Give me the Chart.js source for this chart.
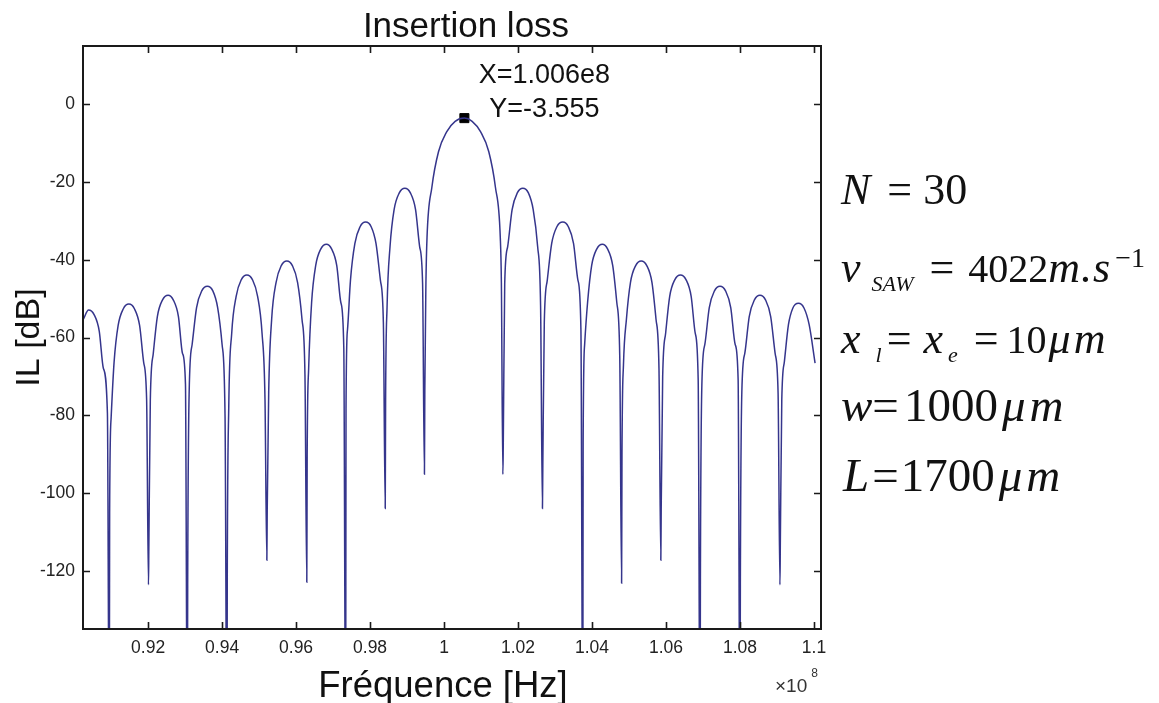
<!DOCTYPE html>
<html>
<head>
<meta charset="utf-8">
<title>Insertion loss</title>
<script src="https://cdn.jsdelivr.net/npm/chart.js@4.4.0/dist/chart.umd.min.js"></script>
<style>
  body { margin: 0; background: #fff; }
  #wrap { position: relative; width: 1159px; height: 703px; overflow: hidden; }
  #wrap canvas { position: absolute; left: 0; top: 0; }
  .eq { position: absolute; left: 841px; font-family: "Liberation Serif", "Times New Roman", serif;
        font-size: 40px; line-height: 40px; color: #111; white-space: nowrap; }
  .eq i { font-style: italic; }
  .eq sub { font-size: 22px; font-style: italic; vertical-align: -9px; line-height: 0; }
  .eq sup { font-size: 28px; vertical-align: 15px; line-height: 0; }
  .exp { position: absolute; left: 775px; top: 673px; font-family: "Liberation Sans", Arial, sans-serif;
         font-size: 19px; line-height: 19px; color: #333; white-space: nowrap; }
  .exp sup { font-size: 12px; vertical-align: 15px; line-height: 0; margin-left: 4px; }
</style>
</head>
<body>
<div id="wrap">
  <canvas id="chart" width="1159" height="703"></canvas>
  <div class="eq" style="top:168px;font-size:44px;line-height:44px"><i>N</i><span style="margin:0 11px 0 17px">=</span>30</div>
  <div class="eq" style="top:248px"><i style="font-size:44px">v</i><sub style="margin-left:11px">SAW</sub><span style="font-size:44px;margin:0 14px 0 16px">=</span>4022<i style="font-size:44px;letter-spacing:1px">m.s</i><sup style="margin-left:4px">&minus;1</sup></div>
  <div class="eq" style="top:319px"><i style="font-size:44px">x</i><sub style="margin-left:15px">l</sub><span style="font-size:44px;margin-left:5px">=</span><i style="font-size:44px;margin-left:12px">x</i><sub style="margin-left:5px">e</sub><span style="font-size:44px;margin-left:16px">=</span><span style="margin-left:8px">10</span><i style="font-size:44px;letter-spacing:3px;margin-left:2px">&mu;m</i></div>
  <div class="eq" style="top:382px;font-size:47px;line-height:47px"><i>w</i><span>=</span><span style="margin-left:5px">1000</span><i style="letter-spacing:4px;margin-left:4px">&mu;m</i></div>
  <div class="eq" style="top:452px;left:843px;font-size:47px;line-height:47px"><i>L</i><span style="margin-left:3px">=</span><span style="margin-left:2px">1700</span><i style="letter-spacing:4px;margin-left:4px">&mu;m</i></div>
  <div class="exp">&times;10<sup>8</sup></div>
</div>
<script>
// frequency in units of 1e8 Hz, one lobe per line (null points reach below the axis)
var freqHz = [
  0.9025, 0.9039, 0.9054, 0.9068, 0.9079, 0.9090,
  0.9095, 0.9096, 0.9100,
  0.9108, 0.9119, 0.9133, 0.9148, 0.9163, 0.9177, 0.9188, 0.9196,
  0.9201, 0.9202, 0.9206,
  0.9214, 0.9225, 0.9239, 0.9254, 0.9268, 0.9282, 0.9293, 0.9301,
  0.9306, 0.9307, 0.9311,
  0.9319, 0.9331, 0.9345, 0.9360, 0.9375, 0.9388, 0.9400, 0.9408,
  0.9413, 0.9414, 0.9418,
  0.9426, 0.9438, 0.9452, 0.9467, 0.9482, 0.9496, 0.9508, 0.9516,
  0.9521, 0.9522, 0.9526,
  0.9534, 0.9546, 0.9560, 0.9575, 0.9590, 0.9604, 0.9616, 0.9624,
  0.9629, 0.9630, 0.9634,
  0.9642, 0.9653, 0.9667, 0.9682, 0.9696, 0.9710, 0.9721, 0.9729,
  0.9734, 0.9735, 0.9739,
  0.9747, 0.9759, 0.9773, 0.9788, 0.9803, 0.9816, 0.9828, 0.9836,
  0.9841, 0.9842, 0.9846,
  0.9854, 0.9865, 0.9879, 0.9894, 0.9909, 0.9923, 0.9934, 0.9942,
  0.9947, 0.9948, 0.9951,
  0.9954, 0.9967, 0.9985, 1.0007, 1.0030, 1.0055, 1.0076, 1.0099, 1.0121, 1.0139, 1.0152, 1.0155,
  1.0159, 1.0160, 1.0164,
  1.0172, 1.0184, 1.0198, 1.0213, 1.0228, 1.0241, 1.0253, 1.0261,
  1.0266, 1.0267, 1.0271,
  1.0279, 1.0291, 1.0305, 1.0321, 1.0336, 1.0350, 1.0362, 1.0370,
  1.0375, 1.0376, 1.0380,
  1.0388, 1.0399, 1.0413, 1.0428, 1.0442, 1.0456, 1.0467, 1.0475,
  1.0480, 1.0481, 1.0485,
  1.0493, 1.0504, 1.0518, 1.0533, 1.0548, 1.0562, 1.0573, 1.0581,
  1.0586, 1.0587, 1.0591,
  1.0599, 1.0610, 1.0624, 1.0639, 1.0654, 1.0668, 1.0679, 1.0687,
  1.0692, 1.0693, 1.0697,
  1.0705, 1.0717, 1.0731, 1.0746, 1.0761, 1.0775, 1.0787, 1.0795,
  1.0800, 1.0801, 1.0805,
  1.0813, 1.0825, 1.0839, 1.0854, 1.0869, 1.0883, 1.0895, 1.0903,
  1.0908, 1.0909, 1.0913,
  1.0920, 1.0931, 1.0943, 1.0958, 1.0973, 1.0987, 1.1003
];
// insertion loss in dB, same order as freqHz
var ilDb = [
  -55.3, -52.9, -54.1, -58.4, -67.9, -79.5,
  -170, -105.0, -80.7,
  -66.4, -56.9, -52.6, -51.4, -52.6, -56.9, -66.4, -76.0,
  -123.6, -114.1, -76.0,
  -64.1, -54.6, -50.3, -49.1, -50.3, -54.6, -64.1, -72.0,
  -170, -123.6, -74.0,
  -61.8, -52.3, -48.0, -46.8, -48.0, -52.3, -61.8, -80.3,
  -170, -121.8, -78.0,
  -58.9, -49.4, -45.1, -43.9, -45.1, -49.4, -58.9, -76.0,
  -117.3, -104.3, -74.0,
  -55.3, -45.8, -41.5, -40.3, -41.5, -45.8, -55.3, -69.6,
  -123.0, -90.2, -68.0,
  -51.0, -41.5, -37.2, -36.0, -37.2, -41.5, -51.0, -62.7,
  -170, -78.3, -58.0,
  -45.3, -35.8, -31.5, -30.3, -31.5, -35.8, -45.3, -56.2,
  -104.0, -76.3, -52.0,
  -36.6, -27.1, -22.8, -21.6, -22.8, -27.1, -36.6, -46.1,
  -95.2, -73.7, -46.1,
  -34.2, -21.4, -12.2, -7.1, -4.4, -3.555, -4.4, -7.1, -12.2, -21.4, -34.2, -46.1,
  -95.2, -88.4, -46.1,
  -36.6, -27.1, -22.8, -21.6, -22.8, -27.1, -36.6, -52.0,
  -104.0, -92.9, -56.2,
  -45.3, -35.8, -31.5, -30.3, -31.5, -35.8, -45.3, -58.0,
  -170, -87.1, -61.9,
  -51.0, -41.5, -37.2, -36.0, -37.2, -41.5, -51.0, -65.0,
  -123.2, -90.2, -67.1,
  -55.3, -45.8, -41.5, -40.3, -41.5, -45.8, -55.3, -67.9,
  -117.3, -104.3, -70.0,
  -58.9, -49.4, -45.1, -43.9, -45.1, -49.4, -58.9, -70.9,
  -170, -121.8, -72.0,
  -61.8, -52.3, -48.0, -46.8, -48.0, -52.3, -61.8, -70.9,
  -170, -123.6, -74.0,
  -64.1, -54.6, -50.3, -49.1, -50.3, -54.6, -64.1, -74.3,
  -123.6, -113.7, -76.0,
  -66.2, -56.7, -52.4, -51.2, -52.4, -56.7, -66.6
];

var xTicks = [0.92, 0.94, 0.96, 0.98, 1.0, 1.02, 1.04, 1.06, 1.08, 1.1];
var yTicks = [0, -20, -40, -60, -80, -100, -120];

// data cursor on the main lobe
var markerX = [1.0055];
var markerY = [-3.555];
var tipLines = ["X=1.006e8", "Y=-3.555"];

var titleText = "Insertion loss";
var xLabel = "Fréquence [Hz]";
var yLabel = "IL [dB]";

var sans = '"Liberation Sans", Arial, Helvetica, sans-serif';
Chart.defaults.font.family = sans;

var points = [];
for (var i = 0; i < freqHz.length; i++) {
  points.push({x: freqHz[i], y: ilDb[i]});
}

// matlab style box with inward ticks on all four sides
var matlabBox = {
  id: "matlabBox",
  afterDatasetsDraw: function(chart) {
    var ctx = chart.ctx, a = chart.chartArea;
    var xs = chart.scales.x, ys = chart.scales.y;
    ctx.save();
    ctx.strokeStyle = "#1a1a1a";
    ctx.lineWidth = 1.6;
    ctx.beginPath();
    xTicks.forEach(function(v) {
      var px = Math.round(xs.getPixelForValue(v)) + 0.5;
      ctx.moveTo(px, a.bottom); ctx.lineTo(px, a.bottom - 7);
      ctx.moveTo(px, a.top); ctx.lineTo(px, a.top + 7);
    });
    yTicks.forEach(function(v) {
      var py = Math.round(ys.getPixelForValue(v)) + 0.5;
      ctx.moveTo(a.left, py); ctx.lineTo(a.left + 7, py);
      ctx.moveTo(a.right, py); ctx.lineTo(a.right - 7, py);
    });
    ctx.stroke();
    ctx.lineWidth = 2;
    ctx.strokeRect(a.left, a.top, a.right - a.left, a.bottom - a.top);
    ctx.restore();
  }
};

// title, x label and data cursor text
var labels = {
  id: "labels",
  afterDraw: function(chart) {
    var ctx = chart.ctx, a = chart.chartArea;
    var mid = (a.left + a.right) / 2;
    var px = chart.scales.x.getPixelForValue(markerX[0]);
    var py = chart.scales.y.getPixelForValue(markerY[0]);
    ctx.save();
    ctx.fillStyle = "#111";
    ctx.textAlign = "center";
    ctx.textBaseline = "alphabetic";
    ctx.font = "35px " + sans;
    ctx.fillText(titleText, mid + 14, 37);
    ctx.font = "36.5px " + sans;
    ctx.fillText(xLabel, mid - 9, 697);
    ctx.font = "27px " + sans;
    ctx.fillText(tipLines[0], px + 80, py - 35);
    ctx.fillText(tipLines[1], px + 80, py - 1);
    ctx.restore();
  }
};

new Chart(document.getElementById("chart"), {
  type: "line",
  data: {
    datasets: [
      {
        label: "IL",
        data: points,
        borderColor: "#35358c",
        borderWidth: 1.5,
        pointRadius: 0,
        fill: false,
        tension: 0.4,
        cubicInterpolationMode: "monotone"
      },
      {
        label: "cursor",
        data: [{x: markerX[0], y: markerY[0]}],
        showLine: false,
        pointStyle: "rect",
        pointRadius: 6.4,
        backgroundColor: "#000",
        borderColor: "#000",
        borderWidth: 1
      }
    ]
  },
  options: {
    responsive: false,
    animation: false,
    devicePixelRatio: 1,
    layout: { padding: { left: 0, top: 46, right: 338, bottom: 0 } },
    plugins: {
      legend: { display: false },
      tooltip: { enabled: false },
      title: { display: false }
    },
    scales: {
      x: {
        type: "linear",
        min: 0.9024,
        max: 1.1019,
        afterBuildTicks: function(s) { s.ticks = xTicks.map(function(v) { return {value: v}; }); },
        afterFit: function(s) { s.height = 74; },
        grid: { display: false, drawTicks: false },
        border: { display: false },
        ticks: {
          padding: 9,
          color: "#222",
          autoSkip: false,
          maxRotation: 0,
          font: { size: 17.5 },
          callback: function(v) { return String(+v.toFixed(2)); }
        }
      },
      y: {
        min: -135,
        max: 15,
        afterBuildTicks: function(s) { s.ticks = yTicks.map(function(v) { return {value: v}; }); },
        afterFit: function(s) { s.width = 83; },
        grid: { display: false, drawTicks: false },
        border: { display: false },
        ticks: {
          padding: 8,
          color: "#222",
          font: { size: 17.5 },
          callback: function(v) { return String(v); }
        },
        title: {
          display: true,
          text: yLabel,
          color: "#111",
          font: { size: 34, lineHeight: 1 },
          padding: { top: 13, bottom: 0 }
        }
      }
    }
  },
  plugins: [matlabBox, labels]
});
</script>
</body>
</html>
